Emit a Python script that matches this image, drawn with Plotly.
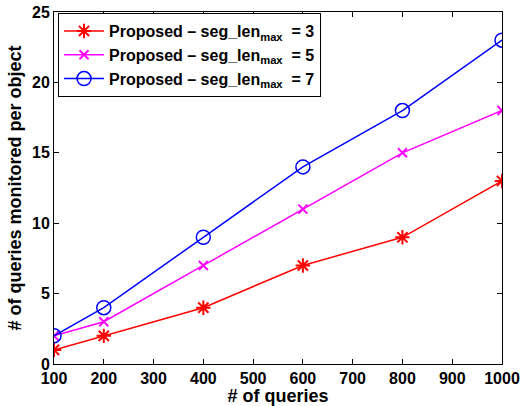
import plotly.graph_objects as go

queries = [100, 200, 400, 600, 800, 1000]
seg3 = [1, 2, 4, 7, 9, 13]
seg5 = [2, 3, 7, 11, 15, 18]
seg7 = [2, 4, 9, 14, 18, 23]
names = ["Proposed – seg_len<sub>max</sub>\u00a0\u00a0= 3",
         "Proposed – seg_len<sub>max</sub>\u00a0\u00a0= 5",
         "Proposed – seg_len<sub>max</sub>\u00a0\u00a0= 7"]
x_ticks = [100, 200, 300, 400, 500, 600, 700, 800, 900, 1000]
y_ticks = [0, 5, 10, 15, 20, 25]

font = "Liberation Sans, Arial, sans-serif"
fig = go.Figure()
fig.add_trace(go.Scatter(x=queries, y=seg3, name=names[0], mode="lines+markers",
                         line=dict(color="#ff0000", width=1.5),
                         marker=dict(symbol="asterisk-open", size=12,
                                     line=dict(color="#ff0000", width=2))))
fig.add_trace(go.Scatter(x=queries, y=seg5, name=names[1], mode="lines+markers",
                         line=dict(color="#ff00ff", width=1.5),
                         marker=dict(symbol="x-thin-open", size=9,
                                     line=dict(color="#ff00ff", width=2))))
fig.add_trace(go.Scatter(x=queries, y=seg7, name=names[2], mode="lines+markers",
                         line=dict(color="#0000ff", width=1.5),
                         marker=dict(symbol="circle-open", size=14,
                                     line=dict(color="#0000ff", width=1.5))))

axis_common = dict(showline=True, linecolor="black", linewidth=1, mirror="ticks",
                   ticks="inside", ticklen=5, tickcolor="black", showgrid=False,
                   zeroline=False, automargin=False, ticklabeloverflow="allow",
                   tickfont=dict(family=font, size=16, color="black", weight="bold"))

fig.update_layout(
    width=520, height=406,
    margin=dict(l=54, r=18, t=12, b=42),
    paper_bgcolor="white", plot_bgcolor="white",
    font=dict(family=font, color="black"),
    xaxis=dict(range=[100, 1000], tickvals=x_ticks,
               title=dict(text="# of queries", standoff=1,
                          font=dict(family=font, size=18, color="black", weight="bold")),
               **axis_common),
    yaxis=dict(range=[0, 25], tickvals=y_ticks,
               title=dict(text="# of queries monitored per object", standoff=5,
                          font=dict(family=font, size=18, color="black", weight="bold")),
               **axis_common),
    legend=dict(x=0.009, y=0.997, xanchor="left", yanchor="top",
                bgcolor="white", bordercolor="black", borderwidth=1,
                font=dict(family=font, size=16, color="black", weight="bold"),
                tracegroupgap=0, itemwidth=40),
    showlegend=True,
)
fig.write_html("out.html", config={"displayModeBar": False},
               post_script="document.body.style.margin='0';")
